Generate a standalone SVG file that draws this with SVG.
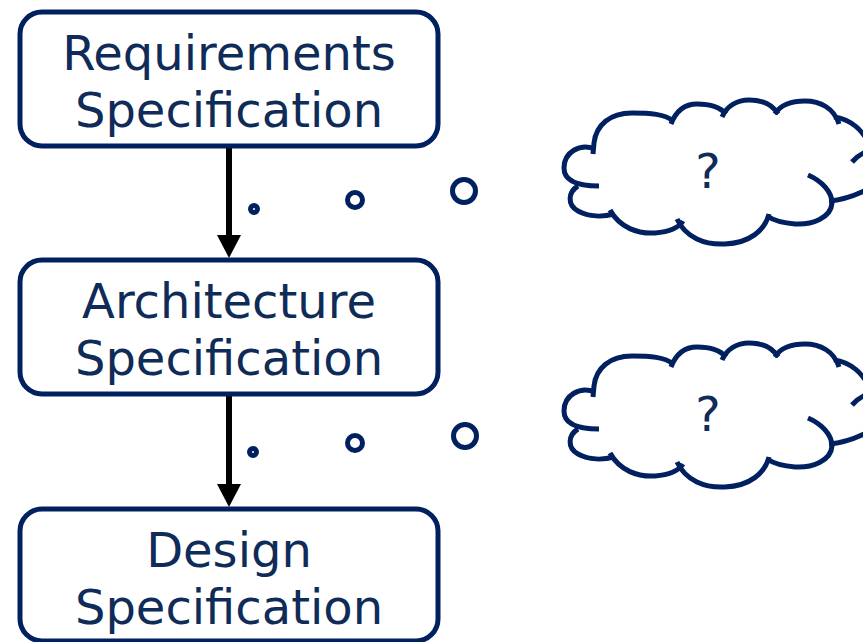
<svg xmlns="http://www.w3.org/2000/svg" xmlns:xlink="http://www.w3.org/1999/xlink" width="863" height="642" viewBox="0 0 863 642">
<style>
.box{fill:#fff;stroke:#002060;stroke-width:5}
.lbl{font-family:"DejaVu Sans",Verdana,sans-serif;font-size:48px;fill:#0f2b57;text-anchor:middle}
.dot{fill:none;stroke:#002060;stroke-width:5}
.cl{fill:none;stroke:#002060;stroke-width:5;stroke-linecap:butt}
.shaft{stroke:#000;stroke-width:6}
</style>
<defs>
<g id="cloudShape">
<path class="cl" d="M 673 121 C 665 114 650 113 632 113 C 610 113 596 125 594 143 L 593 154"/>
<path class="cl" d="M 595 149 C 580 143 564 152 564 168 C 564 180 575 186 599 186"/>
<path class="cl" d="M 578 186 C 568 192 567 205 578 211 C 589 217 603 217 614 214"/>
<path class="cl" d="M 610 210 C 620 228 638 234 655 233 C 668 232 678 229 683 221"/>
<path class="cl" d="M 677 219 C 686 238 705 245 725 244 C 750 243 765 230 769 214"/>
<path class="cl" d="M 808 175 C 822 181 832 192 832 203 C 831 218 812 225 795 224 C 782 223 773 220 767 216"/>
<path class="cl" d="M 829 201 C 842 200 855 196 870 188"/>
<path class="cl" d="M 852 162 C 858 155 866 150 880 148"/>
<path class="cl" d="M 834 117 C 850 119 864 130 872 150"/>
<path class="cl" d="M 839 124 C 834 108 820 101 805 101 C 792 101 780 105 775 114"/>
<path class="cl" d="M 778 114 C 772 104 761 100 749 100 C 737 100 727 106 722 117"/>
<path class="cl" d="M 726 114 C 720 107 710 104 697 104 C 685 104 676 111 671 124"/>
</g>
</defs>
<g id="connectors">
<line class="shaft" x1="229" y1="148" x2="229" y2="238"/>
<polygon points="217,235 241,235 229,258" fill="#000"/>
<line class="shaft" x1="229" y1="396" x2="229" y2="487"/>
<polygon points="217,484 241,484 229,507" fill="#000"/>
</g>
<g id="node-requirements">
<rect class="box" x="20" y="12" width="418" height="134" rx="22"/>
<text class="lbl" x="229" y="70">Requirements</text>
<text class="lbl" x="229" y="127">Specification</text>
</g>
<g id="node-architecture">
<rect class="box" x="20" y="260" width="418" height="134" rx="22"/>
<text class="lbl" x="229" y="318">Architecture</text>
<text class="lbl" x="229" y="375">Specification</text>
</g>
<g id="node-design">
<rect class="box" x="20" y="509" width="418" height="132" rx="22"/>
<text class="lbl" x="229" y="567">Design</text>
<text class="lbl" x="229" y="624">Specification</text>
</g>
<g id="thought-dots-1">
<circle class="dot" cx="254" cy="209" r="3.5"/>
<circle class="dot" cx="355" cy="200" r="7.5"/>
<circle class="dot" cx="464" cy="191" r="11.5"/>
</g>
<g id="thought-dots-2">
<circle class="dot" cx="253" cy="452" r="3.5"/>
<circle class="dot" cx="355" cy="443" r="7.5"/>
<circle class="dot" cx="465" cy="436" r="11.5"/>
</g>
<g id="cloud-1">
<use xlink:href="#cloudShape"/>
<text class="lbl" x="708" y="188">?</text>
</g>
<g id="cloud-2">
<use xlink:href="#cloudShape" transform="translate(0,243)"/>
<text class="lbl" x="708" y="431">?</text>
</g>
</svg>
